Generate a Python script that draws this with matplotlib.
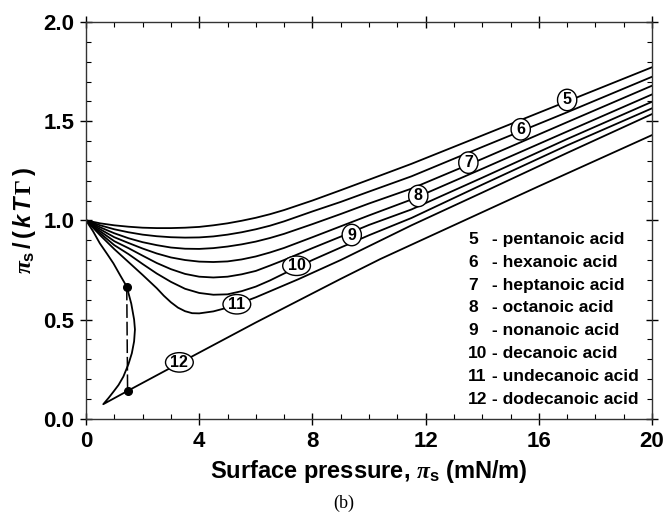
import matplotlib
matplotlib.use('Agg')
import matplotlib.pyplot as plt
from matplotlib.patches import Ellipse
import numpy as np

plt.rcParams['font.family'] = ['Liberation Sans', 'DejaVu Sans']
plt.rcParams['font.weight'] = 'bold'
plt.rcParams['mathtext.fontset'] = 'custom'
plt.rcParams['mathtext.it'] = 'Liberation Serif:italic'
plt.rcParams['mathtext.bf'] = 'Liberation Sans:bold'
plt.rcParams['mathtext.rm'] = 'Liberation Sans:bold'
plt.rcParams['mathtext.bfit'] = 'Liberation Sans:italic:bold'
plt.rcParams['mathtext.cal'] = 'Liberation Serif'

# curves 5..10 share one grid of surface pressure (mN/m)
xs = [0, 0.5, 1, 1.5, 2, 2.5, 3, 3.5, 4, 4.5, 5, 5.5, 6, 6.5, 7, 8, 9, 10, 11.5, 14, 17, 20]
c5 = [1.0, 0.985, 0.975, 0.968, 0.963, 0.961, 0.961, 0.963, 0.967, 0.975, 0.985, 0.998, 1.013, 1.031, 1.052, 1.100, 1.152, 1.205, 1.285, 1.428, 1.600, 1.772]
c6 = [1.0, 0.975, 0.955, 0.94, 0.928, 0.92, 0.915, 0.913, 0.914, 0.919, 0.928, 0.940, 0.955, 0.973, 0.995, 1.045, 1.093, 1.145, 1.222, 1.370, 1.545, 1.724]
c7 = [1.0, 0.965, 0.935, 0.91, 0.89, 0.875, 0.863, 0.857, 0.856, 0.86, 0.868, 0.879, 0.893, 0.911, 0.932, 0.981, 1.032, 1.085, 1.160, 1.310, 1.495, 1.679]
c8 = [1.0, 0.955, 0.915, 0.886, 0.858, 0.833, 0.813, 0.80, 0.792, 0.79, 0.793, 0.803, 0.818, 0.838, 0.861, 0.915, 0.970, 1.025, 1.105, 1.260, 1.448, 1.635]
c9 = [1.0, 0.945, 0.895, 0.86, 0.822, 0.785, 0.754, 0.73, 0.716, 0.712, 0.716, 0.728, 0.745, 0.772, 0.800, 0.860, 0.918, 0.977, 1.055, 1.215, 1.410, 1.598]
c10 = [1.0, 0.935, 0.875, 0.83, 0.78, 0.732, 0.69, 0.655, 0.634, 0.625, 0.627, 0.643, 0.666, 0.697, 0.732, 0.800, 0.863, 0.925, 1.012, 1.180, 1.378, 1.565]

# curve 11 has a sharper minimum, read on a finer grid
x11 = [0, 0.5, 1, 1.5, 2, 2.5, 2.75, 3, 3.25, 3.5, 3.75, 4, 4.5, 5, 5.5, 6, 7.5, 9, 11.5, 14, 17, 20]
c11 = [1.0, 0.925, 0.855, 0.79, 0.725, 0.658, 0.62, 0.587, 0.56, 0.542, 0.532, 0.531, 0.541, 0.560, 0.585, 0.612, 0.703, 0.80, 0.975, 1.14, 1.34, 1.536]

# curve 12 with the loop
x12 = [0, 0.25, 0.49, 0.75, 0.97, 1.2, 1.44, 1.6, 1.7, 1.73, 1.7, 1.62, 1.5, 1.32, 1.15, 0.97, 0.8, 0.61,
       1.47, 3.3, 6, 9, 10.4, 12, 16, 20]
c12 = [1.0, 0.945, 0.884, 0.83, 0.783, 0.725, 0.666, 0.58, 0.5, 0.45, 0.39, 0.33, 0.275, 0.212, 0.17, 0.136, 0.105, 0.073,
       0.14, 0.28, 0.485, 0.705, 0.805, 0.91, 1.172, 1.43]

# phase transition points
tr_x = [1.44, 1.47]
tr_y = [0.666, 0.141]

curves = [c5, c6, c7, c8, c9, c10]
lab_num = ['5', '6', '7', '8', '9', '10', '11', '12']
lab_x = [17.0, 15.36, 13.51, 11.74, 9.39, 7.44, 5.33, 3.30]
lab_y = [1.607, 1.459, 1.291, 1.123, 0.926, 0.771, 0.577, 0.284]
names = ['pentanoic acid', 'hexanoic acid', 'heptanoic acid', 'octanoic acid',
         'nonanoic acid', 'decanoic acid', 'undecanoic acid', 'dodecanoic acid']

fig = plt.figure(figsize=(6.64, 5.18), dpi=100)
ax = fig.add_axes([0.1295, 0.1917, 0.8525, 0.7658])

for c in curves:
    ax.plot(xs, c, color='black', lw=1.3)
ax.plot(x11, c11, color='black', lw=1.3)
ax.plot(x12, c12, color='black', lw=1.3)

dl, = ax.plot([tr_x[0], tr_x[1]], [tr_y[0], tr_y[1]], color='black', lw=1.1)
dl.set_dashes([9, 2.5])
ax.plot(tr_x, tr_y, 'o', color='black', ms=5.5)

# circled curve numbers
for n, lx, ly in zip(lab_num, lab_x, lab_y):
    w = 0.68 if len(n) == 1 else 0.98
    h = 0.108 if len(n) == 1 else 0.098
    ax.add_patch(Ellipse((lx, ly), w, h, fc='white', ec='black', lw=1.0, zorder=3))
    ax.text(lx, ly, n, ha='center', va='center', fontsize=11.5, fontweight='bold', zorder=4)

for i, (n, name) in enumerate(zip(lab_num, names)):
    yy = 0.904 - 0.115 * i
    ax.text(13.51, yy, n, ha='left', va='center', fontsize=12.5, fontweight='bold')
    ax.text(14.36, yy, '- ' + name, ha='left', va='center', fontsize=12.5, fontweight='bold')

ax.set_xlim(0, 20)
ax.set_ylim(0, 2.0)
ax.set_xticks([0, 4, 8, 12, 16, 20])
ax.set_yticks([0, 0.5, 1.0, 1.5, 2.0])
ax.set_yticklabels(['0.0', '0.5', '1.0', '1.5', '2.0'])
ax.set_xticks(np.arange(0, 21, 1), minor=True)
ax.set_yticks(np.arange(0, 2.01, 0.1), minor=True)
ax.tick_params(which='major', direction='inout', length=9, width=1, top=True, right=True,
               labelsize=16, pad=4, colors='black')
ax.tick_params(which='minor', direction='in', length=3.5, width=0.8, top=True, right=True)
for lb in ax.get_xticklabels() + ax.get_yticklabels():
    lb.set_fontweight('bold')
for sp in ax.spines.values():
    sp.set_linewidth(1.0)
    sp.set_color('#333333')

ax.set_xlabel(r'Surface pressure, $\pi_{\mathbf{s}}$ (mN/m)', fontsize=17, fontweight='bold', labelpad=5)
ax.set_ylabel(r'$\pi_{\mathbf{s}}\,\mathrm{/}\,(\,\mathbfit{k\,T}\,\mathcal{\Gamma}\,)$', fontsize=17, labelpad=4)

fig.text(0.517, 0.029, '(b)', ha='center', va='center', fontsize=13, fontweight='normal',
         family='Liberation Serif')

fig.savefig('out.png', dpi=100)
